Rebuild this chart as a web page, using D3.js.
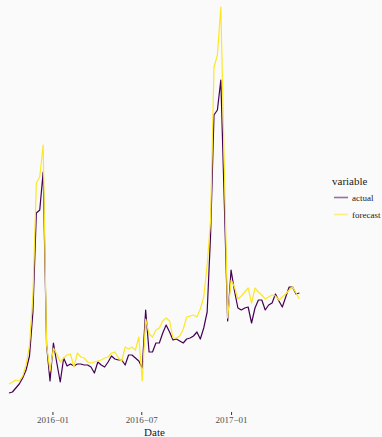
<!DOCTYPE html>
<html>
<head>
<meta charset="utf-8">
<script src="https://cdn.jsdelivr.net/npm/d3@7/dist/d3.min.js"></script>
<style>
  html, body { margin: 0; padding: 0; background: #fafafa; }
  svg { display: block; }
  svg text { font-family: "Liberation Serif", "Times New Roman", "DejaVu Serif", serif !important; }
</style>
</head>
<body>
<svg id="chart" width="382" height="437"></svg>
<script>
// ---- data (weekly) ----
const startDate = "2015-10-04";
const actual = [
  7, 8, 12, 16, 22, 30, 44, 88, 187, 190,
  228, 55, 19, 57, 37, 18, 42, 34, 36, 34,
  36, 36, 35, 35, 33, 27, 38, 35, 33, 38,
  44, 41, 40, 40, 35, 45, 45, 42, 39, 32,
  90, 48, 48, 57, 57, 67, 75, 68, 60, 61,
  59, 57, 61, 62, 64, 68, 61, 72, 88, 165,
  285, 290, 320, 200, 79, 130, 109, 92, 90, 92,
  93, 77, 92, 100, 100, 90, 95, 97, 106, 99,
  93, 103, 113, 113, 106, 107
];
const forecast = [
  16, 18, 20, 19, 24, 35, 55, 105, 217, 223,
  255, 55, 29, 52, 46, 38, 42, 45, 46, 33,
  47, 43, 42, 38, 37, 38, 39, 40, 42, 43,
  47, 48, 42, 39, 53, 51, 53, 50, 63, 19,
  81, 66, 63, 70, 72, 79, 82, 79, 62, 62,
  64, 71, 83, 84, 85, 83, 91, 103, 135, 180,
  333, 345, 393, 238, 82, 120, 113, 101, 104, 108,
  112, 97, 112, 108, 105, 101, 103, 105, 104, 100,
  103, 106, 110, 113, 107, 101
];
const tickLabels = ["2016−01", "2016−07", "2017−01"];
const tickDates = ["2016-01-01", "2016-07-01", "2017-01-01"];
const seriesNames = ["actual", "forecast"];
const seriesColors = ["#440154", "#FDE725"];

// ---- build ----
const parse = d3.utcParse("%Y-%m-%d");
const t0 = parse(startDate);
const dates = actual.map((_, i) => d3.utcDay.offset(t0, 7 * i));
const series = [actual, forecast].map((vals, k) => ({
  name: seriesNames[k], color: seriesColors[k],
  pts: vals.map((v, i) => ({ date: dates[i], value: v }))
}));

const svg = d3.select("#chart");
const x = d3.scaleUtc().domain(d3.extent(dates)).range([9, 299.4]);
const y = d3.scaleLinear().domain([0, 400]).range([400, 0]);
const panelBottom = 412;
const serif = '"Liberation Serif", "Times New Roman", serif';

const line = d3.line().x(d => x(d.date)).y(d => y(d.value));

svg.append("g").selectAll("path").data(series).join("path")
  .attr("fill", "none")
  .attr("stroke", d => d.color)
  .attr("stroke-width", 1.2)
  .attr("stroke-linejoin", "round")
  .attr("d", d => line(d.pts));

// x axis
const xAxis = d3.axisBottom(x)
  .tickValues(tickDates.map(parse))
  .tickFormat((d, i) => tickLabels[i])
  .tickSize(3)
  .tickPadding(2);
const gx = svg.append("g").attr("transform", `translate(0,${panelBottom})`).call(xAxis)
  .attr("font-family", serif);
gx.select(".domain").remove();
gx.selectAll(".tick line").attr("stroke", "#333").attr("stroke-width", 1);
gx.selectAll(".tick text")
  .attr("fill", "#4d4d4d")
  .attr("font-family", serif)
  .style("font-size", "9px");

svg.append("text")
  .attr("x", 154.5).attr("y", 436)
  .attr("text-anchor", "middle")
  .attr("fill", "#1a1a1a")
  .attr("font-family", serif)
  .style("font-size", "11px")
  .text("Date");

// legend
const lg = svg.append("g").attr("font-family", serif);
lg.append("text").attr("x", 332).attr("y", 185)
  .attr("fill", "#1a1a1a").style("font-size", "11px").text("variable");
const items = lg.selectAll("g.item").data(series).join("g")
  .attr("class", "item")
  .attr("transform", (d, i) => `translate(0,${197.5 + i * 17})`);
items.append("line")
  .attr("x1", 334).attr("x2", 348).attr("y1", 0).attr("y2", 0)
  .attr("stroke", d => d.color).attr("stroke-width", 1.6)
  .attr("stroke-opacity", 0.55);
items.append("text")
  .attr("x", 352).attr("y", 3)
  .attr("fill", "#1a1a1a").style("font-size", "9px")
  .text(d => d.name);
</script>
</body>
</html>
